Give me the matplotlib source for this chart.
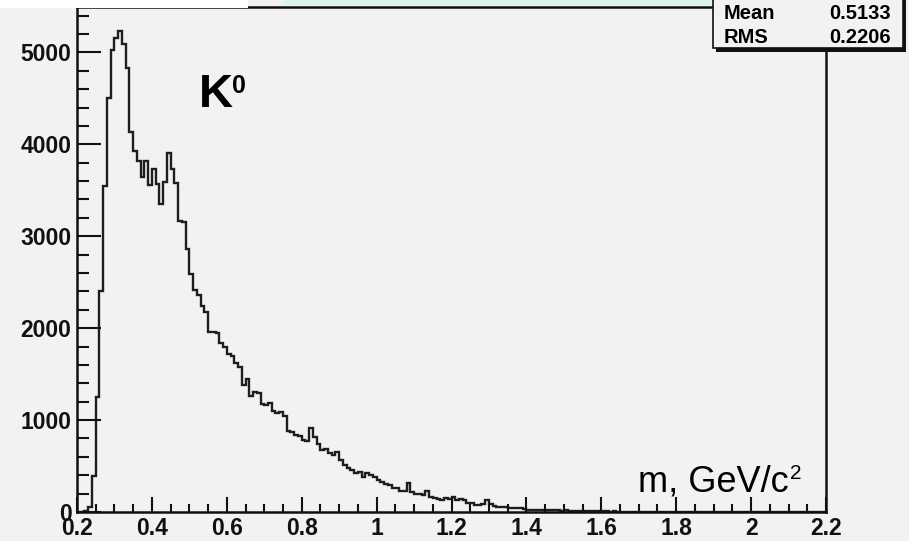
import matplotlib
matplotlib.use('Agg')
import matplotlib.pyplot as plt
import numpy as np
from matplotlib.patches import Rectangle
from matplotlib.ticker import MultipleLocator, FormatStrFormatter

# invariant mass histogram, 200 bins of 0.01 GeV/c^2 from 0.2 to 2.2
m_lo = 0.2
m_hi = 2.2
n_bins = 200
counts = [
    0, 0, 15, 50, 390, 1250, 2405, 3547, 4507, 5029,
    5160, 5232, 5087, 4833, 4134, 3924, 3815, 3645, 3815, 3562,
    3728, 3573, 3355, 3590, 3905, 3735, 3583, 3166, 3150, 2859,
    2587, 2413, 2359, 2239, 2177, 1960, 1955, 1949, 1840, 1797,
    1720, 1700, 1620, 1580, 1380, 1446, 1260, 1310, 1290, 1170,
    1165, 1185, 1100, 1073, 1090, 1040, 880, 870, 840, 825,
    785, 775, 916, 812, 739, 674, 684, 645, 625, 656,
    565, 511, 475, 456, 420, 438, 384, 427, 400, 384,
    348, 330, 304, 290, 257, 265, 232, 232, 312, 221,
    192, 200, 185, 232, 167, 149, 140, 130, 149, 140,
    159, 130, 145, 130, 101, 101, 76, 76, 90, 130,
    85, 65, 51, 51, 55, 45, 45, 45, 42, 29,
    22, 22, 22, 20, 25, 20, 22, 18, 20, 15,
    18, 12, 14, 10, 12, 9, 10, 8, 10, 7,
    8, 6, 5, 7, 4, 5, 4, 3, 4, 3,
    2, 3, 2, 2, 1, 2, 1, 1, 0, 1,
    0, 0, 0, 0, 0, 0, 0, 0, 0, 0,
    0, 0, 0, 0, 0, 0, 0, 0, 0, 0,
    0, 0, 0, 0, 0, 0, 0, 0, 0, 0,
    0, 0, 0, 0, 0, 0, 0, 0, 0, 0,
]
stat_names = ['Mean', 'RMS']
stat_values = ['0.5133', '0.2206']

W, H = 909, 541
BG = '#f2f2f2'
plt.rcParams['font.family'] = ['Liberation Sans', 'DejaVu Sans']


def fx(px):
    return px / W


def fy(py):
    return 1 - py / H


fig = plt.figure(figsize=(W / 100, H / 100), dpi=100, facecolor=BG)
ax = fig.add_axes([fx(77), fy(512), fx(826) - fx(77), fy(7) - fy(512)])
ax.set_facecolor(BG)

edges = np.linspace(m_lo, m_hi, n_bins + 1)
ax.stairs(counts, edges, color='#1e1e1e', lw=1.7, baseline=0)

ax.set_xlim(m_lo, m_hi)
ax.set_ylim(0, max(counts) * 1.05)

ax.xaxis.set_major_locator(MultipleLocator(0.2))
ax.xaxis.set_minor_locator(MultipleLocator(0.05))
ax.yaxis.set_major_locator(MultipleLocator(1000))
ax.yaxis.set_minor_locator(MultipleLocator(200))
ax.xaxis.set_major_formatter(FormatStrFormatter('%g'))
ax.yaxis.set_major_formatter(FormatStrFormatter('%g'))

ax.tick_params(axis='both', which='both', direction='in', color='#111111',
               width=1.5, top=False, right=False)
ax.tick_params(axis='x', which='major', length=11, pad=3.5)
ax.tick_params(axis='x', which='minor', length=5.5)
ax.tick_params(axis='y', which='major', length=17, pad=4)
ax.tick_params(axis='y', which='minor', length=8.5)
for lab in ax.get_xticklabels() + ax.get_yticklabels():
    lab.set_fontsize(16.5)
    lab.set_fontweight('bold')
    lab.set_color('#111111')

for sp in ax.spines.values():
    sp.set_linewidth(1.8)
    sp.set_color('#111111')

# particle label and axis title inside the frame
ax.text(fx(199), fy(107), 'K', transform=fig.transFigure, fontsize=34,
        fontweight='bold', ha='left', va='baseline')
ax.text(fx(232), fy(93), '0', transform=fig.transFigure, fontsize=18,
        fontweight='bold', ha='left', va='baseline')
ax.text(fx(789), fy(491), 'm, GeV/c', transform=fig.transFigure, fontsize=26,
        ha='right', va='baseline')
ax.text(fx(790), fy(479), '2', transform=fig.transFigure, fontsize=15,
        ha='left', va='baseline')

# pieces of the canvas above the frame
fig.patches.append(Rectangle((0, fy(8)), fx(248), 1 - fy(8),
                             transform=fig.transFigure, facecolor='white',
                             edgecolor='none', zorder=5))
fig.patches.append(Rectangle((fx(284), fy(5)), fx(753) - fx(284), 1 - fy(5),
                             transform=fig.transFigure, facecolor='#d9f3ef',
                             edgecolor='none', zorder=5))

# statistics box with shadow
fig.patches.append(Rectangle((fx(716), fy(52)), fx(906) - fx(716), 1,
                             transform=fig.transFigure, facecolor='#111111',
                             edgecolor='none', zorder=6))
fig.patches.append(Rectangle((fx(713), fy(48)), fx(903) - fx(713), 1,
                             transform=fig.transFigure, facecolor=BG,
                             edgecolor='#111111', lw=1.2, zorder=7))
for i, (name, val) in enumerate(zip(stat_names, stat_values)):
    base = 19 + i * 24
    fig.text(fx(724), fy(base), name, fontsize=14.5, fontweight='bold',
             ha='left', va='baseline', zorder=8)
    fig.text(fx(891), fy(base), val, fontsize=14.5, fontweight='bold',
             ha='right', va='baseline', zorder=8)

fig.savefig('out.png', dpi=100, facecolor=BG)
